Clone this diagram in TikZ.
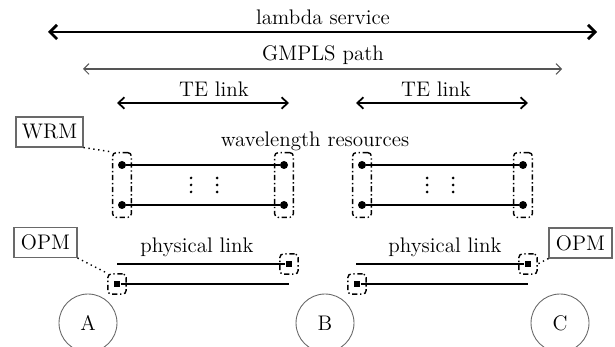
\documentclass[tikz,border=0pt]{standalone}
\usetikzlibrary{arrows.meta,positioning,fit}
\definecolor{pathgrey}{RGB}{85,85,85}
\definecolor{nodegrey}{RGB}{105,105,105}

\begin{document}
\begin{tikzpicture}[x=0.02cm, y=-0.02cm, font=\large,
    tag/.style={rectangle, draw=nodegrey, line width=0.6pt, minimum height=0.6cm, inner sep=1pt},
    grp/.style={draw, line width=0.8pt, rounded corners=2pt, inner sep=0pt,
                dash pattern=on 3pt off 1.5pt on 0.8pt off 1.5pt},
    wdot/.style={circle, fill, inner sep=0pt, minimum size=0.16cm},
    pm/.style={rectangle, fill, inner sep=0pt, minimum size=0.13cm},
    site/.style={circle, draw=nodegrey, line width=0.5pt, minimum size=1.16cm},
    lead/.style={dotted, line width=0.8pt},
    wave/.style={line width=1.3pt},
    fibre/.style={line width=0.8pt},
    tip/.style={Straight Barb[length=3.5pt,width=6.5pt]},
    biarr/.style={{Straight Barb[length=3.5pt,width=6.5pt]}-{Straight Barb[length=3.5pt,width=6.5pt]}, line width=1pt}
]
    \useasboundingbox (0,0) rectangle (615,347);

    % end-to-end arrows
    \coordinate (lamL) at (48,32);  \coordinate (lamR) at (597,32);
    \coordinate (gmL) at (83,69);   \coordinate (gmR) at (562,69);
    \coordinate (te1L) at (117,103); \coordinate (te1R) at (289,103);
    \coordinate (te2L) at (356,103); \coordinate (te2R) at (528,103);
    \node (lam) at (323,17) {lambda service};
    \node (gmpls) at (323,55) {GMPLS path};
    \node (te1) at (214,89) {TE link};
    \node (te2) at (436,89) {TE link};
    \draw[{Straight Barb[length=4pt,width=8pt]}-{Straight Barb[length=4pt,width=8pt]}, line width=1.6pt] (lamL) -- (lamR);
    \draw[{Straight Barb[length=3pt,width=6pt]}-{Straight Barb[length=3pt,width=6pt]}, line width=0.6pt, pathgrey] (gmL) -- (gmR);
    \draw[biarr] (te1L) -- (te1R);
    \draw[biarr] (te2L) -- (te2R);

    % wavelength resources
    \node (wres) at (315,141) {wavelength resources};
    \node[wdot] (a1) at (122,165) {};  \node[wdot] (b1) at (284,165) {};
    \node[wdot] (a2) at (122,205) {};  \node[wdot] (b2) at (284,205) {};
    \node[wdot] (c1) at (362,165) {};  \node[wdot] (d1) at (523,165) {};
    \node[wdot] (c2) at (362,205) {};  \node[wdot] (d2) at (523,205) {};
    \draw[wave] (a1) -- (b1);  \draw[wave] (a2) -- (b2);
    \draw[wave] (c1) -- (d1);  \draw[wave] (c2) -- (d2);
    \foreach \x in {191,217,427,453}
        \foreach \y in {178,185,192}
            \fill (\x,\y) circle[radius=0.03cm];
    \node[grp, fit=(a1)(a2), inner xsep=0.1cm, inner ysep=0.16cm] (ga) {};
    \node[grp, fit=(b1)(b2), inner xsep=0.1cm, inner ysep=0.16cm] (gb) {};
    \node[grp, fit=(c1)(c2), inner xsep=0.1cm, inner ysep=0.16cm] (gc) {};
    \node[grp, fit=(d1)(d2), inner xsep=0.1cm, inner ysep=0.16cm] (gd) {};
    \node[tag, minimum width=1.34cm] (wrm) at (49.5,132) {WRM};
    \draw[lead] (wrm.south east) -- (ga.north west);

    % physical links
    \node (phy1) at (197,247) {physical link};
    \node (phy2) at (445,247) {physical link};
    \node[pm] (p1) at (289,264) {};  \node[pm] (p2) at (117,284) {};
    \node[pm] (p3) at (528,264) {};  \node[pm] (p4) at (357,284) {};
    \coordinate (f1) at (117,264);  \coordinate (f2) at (289,284);
    \coordinate (f3) at (356,264);  \coordinate (f4) at (528,284);
    \draw[fibre] (f1) -- (p1);  \draw[fibre] (p2) -- (f2);
    \draw[fibre] (f3) -- (p3);  \draw[fibre] (p4) -- (f4);
    \node[grp, fit=(p1), inner xsep=0.11cm, inner ysep=0.13cm] (q1) {};
    \node[grp, fit=(p2), inner xsep=0.11cm, inner ysep=0.13cm] (q2) {};
    \node[grp, fit=(p3), inner xsep=0.11cm, inner ysep=0.13cm] (q3) {};
    \node[grp, fit=(p4), inner xsep=0.11cm, inner ysep=0.13cm] (q4) {};
    \node[tag, minimum width=1.26cm] (opm1) at (45.5,242.5) {OPM};
    \node[tag, minimum width=1.26cm] (opm2) at (580.5,243) {OPM};
    \draw[lead] (opm1.south east) -- (q2.north west);
    \draw[lead] (opm2.south west) -- (q3.east);

    % nodes
    \node[site] (A) at (88,323) {A};
    \node[site] (B) at (325,323) {B};
    \node[site] (C) at (560,323) {C};
\end{tikzpicture}
\end{document}
